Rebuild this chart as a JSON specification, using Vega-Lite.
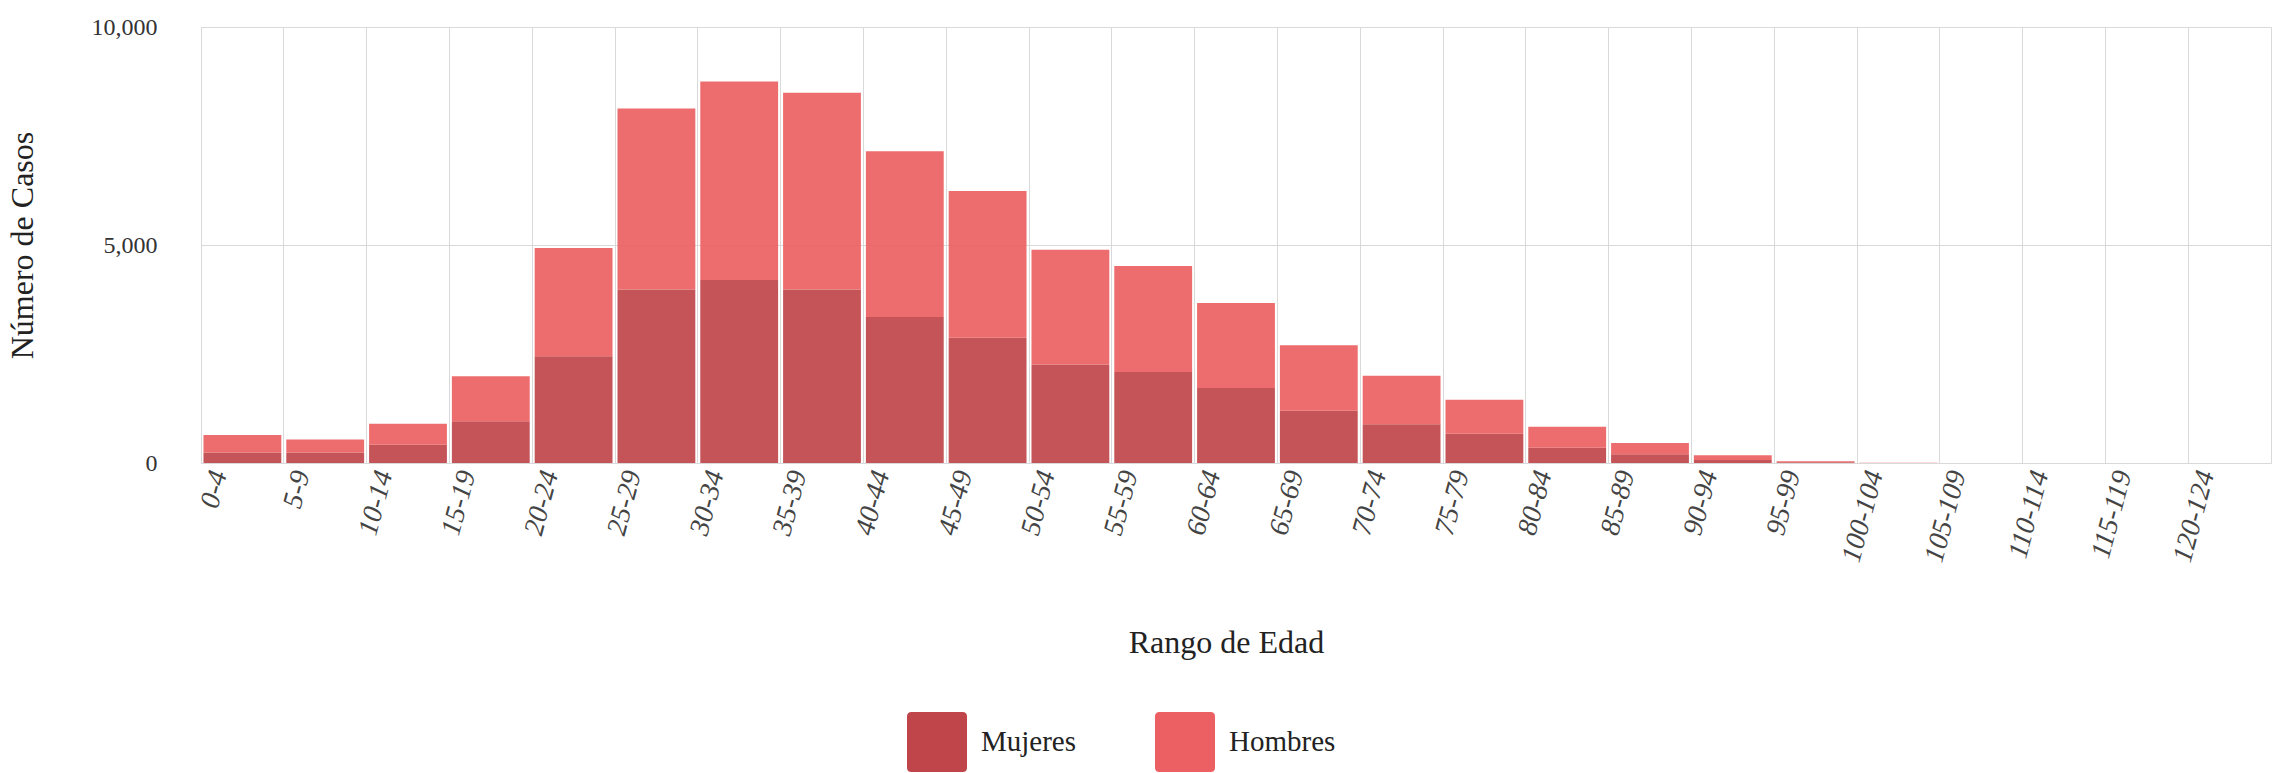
{
  "$schema": "https://vega.github.io/schema/vega-lite/v6.json",
  "autosize": {"type": "none"},
  "width": 2070,
  "height": 436,
  "padding": {"left": 201, "top": 27, "right": 12, "bottom": 310},
  "background": "white",
  "config": {
    "view": {"stroke": "#d9d9d9", "strokeWidth": 1},
    "font": "Liberation Serif"
  },
  "data": {
    "values": [
      {"rango": "0-4", "sexo": "Mujeres", "casos": 240}, {"rango": "0-4", "sexo": "Hombres", "casos": 400},
      {"rango": "5-9", "sexo": "Mujeres", "casos": 240}, {"rango": "5-9", "sexo": "Hombres", "casos": 300},
      {"rango": "10-14", "sexo": "Mujeres", "casos": 420}, {"rango": "10-14", "sexo": "Hombres", "casos": 480},
      {"rango": "15-19", "sexo": "Mujeres", "casos": 960}, {"rango": "15-19", "sexo": "Hombres", "casos": 1030},
      {"rango": "20-24", "sexo": "Mujeres", "casos": 2450}, {"rango": "20-24", "sexo": "Hombres", "casos": 2480},
      {"rango": "25-29", "sexo": "Mujeres", "casos": 3980}, {"rango": "25-29", "sexo": "Hombres", "casos": 4150},
      {"rango": "30-34", "sexo": "Mujeres", "casos": 4200}, {"rango": "30-34", "sexo": "Hombres", "casos": 4550},
      {"rango": "35-39", "sexo": "Mujeres", "casos": 3980}, {"rango": "35-39", "sexo": "Hombres", "casos": 4510},
      {"rango": "40-44", "sexo": "Mujeres", "casos": 3350}, {"rango": "40-44", "sexo": "Hombres", "casos": 3800},
      {"rango": "45-49", "sexo": "Mujeres", "casos": 2870}, {"rango": "45-49", "sexo": "Hombres", "casos": 3370},
      {"rango": "50-54", "sexo": "Mujeres", "casos": 2260}, {"rango": "50-54", "sexo": "Hombres", "casos": 2630},
      {"rango": "55-59", "sexo": "Mujeres", "casos": 2090}, {"rango": "55-59", "sexo": "Hombres", "casos": 2430},
      {"rango": "60-64", "sexo": "Mujeres", "casos": 1720}, {"rango": "60-64", "sexo": "Hombres", "casos": 1950},
      {"rango": "65-69", "sexo": "Mujeres", "casos": 1200}, {"rango": "65-69", "sexo": "Hombres", "casos": 1500},
      {"rango": "70-74", "sexo": "Mujeres", "casos": 890}, {"rango": "70-74", "sexo": "Hombres", "casos": 1110},
      {"rango": "75-79", "sexo": "Mujeres", "casos": 670}, {"rango": "75-79", "sexo": "Hombres", "casos": 780},
      {"rango": "80-84", "sexo": "Mujeres", "casos": 350}, {"rango": "80-84", "sexo": "Hombres", "casos": 480},
      {"rango": "85-89", "sexo": "Mujeres", "casos": 200}, {"rango": "85-89", "sexo": "Hombres", "casos": 260},
      {"rango": "90-94", "sexo": "Mujeres", "casos": 70}, {"rango": "90-94", "sexo": "Hombres", "casos": 110},
      {"rango": "95-99", "sexo": "Mujeres", "casos": 15}, {"rango": "95-99", "sexo": "Hombres", "casos": 25},
      {"rango": "100-104", "sexo": "Mujeres", "casos": 2}, {"rango": "100-104", "sexo": "Hombres", "casos": 2},
      {"rango": "105-109", "sexo": "Mujeres", "casos": 1}, {"rango": "105-109", "sexo": "Hombres", "casos": 1},
      {"rango": "110-114", "sexo": "Mujeres", "casos": 0}, {"rango": "110-114", "sexo": "Hombres", "casos": 1},
      {"rango": "115-119", "sexo": "Mujeres", "casos": 0}, {"rango": "115-119", "sexo": "Hombres", "casos": 0},
      {"rango": "120-124", "sexo": "Mujeres", "casos": 0}, {"rango": "120-124", "sexo": "Hombres", "casos": 1}
    ]
  },
  "mark": {"type": "bar", "width": {"band": 0.94}, "opacity": 0.92},
  "encoding": {
    "x": {
      "field": "rango",
      "type": "nominal",
      "sort": null,
      "scale": {"paddingInner": 0, "paddingOuter": 0},
      "axis": {
        "title": "Rango de Edad",
        "titleFont": "Liberation Serif",
        "titleFontSize": 32,
        "titleFontWeight": "normal",
        "titleColor": "#222",
        "titleX": 1025,
        "titleY": 179,
        "titleAlign": "center",
        "titleBaseline": "middle",
        "bandPosition": 0,
        "grid": true,
        "gridColor": "#d9d9d9",
        "gridWidth": 1,
        "ticks": false,
        "domain": false,
        "labelAngle": -75,
        "labelFont": "Liberation Serif",
        "labelFontSize": 28,
        "labelFontStyle": "italic",
        "labelColor": "#444",
        "labelOffset": -23,
        "labelPadding": 8,
        "labelAlign": "right",
        "labelBaseline": "middle"
      }
    },
    "y": {
      "field": "casos",
      "type": "quantitative",
      "stack": "zero",
      "scale": {"domain": [0, 10000]},
      "axis": {
        "title": "Número de Casos",
        "titleFont": "Liberation Serif",
        "titleFontSize": 32,
        "titleFontWeight": "normal",
        "titleColor": "#222",
        "titleAngle": -90,
        "titleX": -179,
        "titleY": 218,
        "titleAlign": "center",
        "titleBaseline": "middle",
        "values": [0, 5000, 10000],
        "format": ",.0f",
        "grid": true,
        "gridColor": "#d9d9d9",
        "gridWidth": 1,
        "ticks": false,
        "domain": false,
        "labelFont": "Liberation Serif",
        "labelFontSize": 24,
        "labelColor": "#333",
        "labelPadding": 44
      }
    },
    "color": {
      "field": "sexo",
      "type": "nominal",
      "sort": ["Mujeres", "Hombres"],
      "scale": {"domain": ["Mujeres", "Hombres"], "range": ["#c0454a", "#ec5f62"]},
      "legend": {
        "title": null,
        "orient": "none",
        "direction": "horizontal",
        "legendX": 706,
        "legendY": 685,
        "padding": 0,
        "symbolType": "M -0.85,-1 L 0.85,-1 Q 1,-1 1,-0.85 L 1,0.85 Q 1,1 0.85,1 L -0.85,1 Q -1,1 -1,0.85 L -1,-0.85 Q -1,-1 -0.85,-1 Z",
        "symbolSize": 3600,
        "symbolStrokeWidth": 0,
        "symbolOpacity": 1,
        "labelFont": "Liberation Serif",
        "labelFontSize": 29,
        "labelColor": "#222",
        "labelOffset": 14,
        "columnPadding": 78
      }
    },
    "order": {"field": "sexo", "sort": "descending"}
  }
}
